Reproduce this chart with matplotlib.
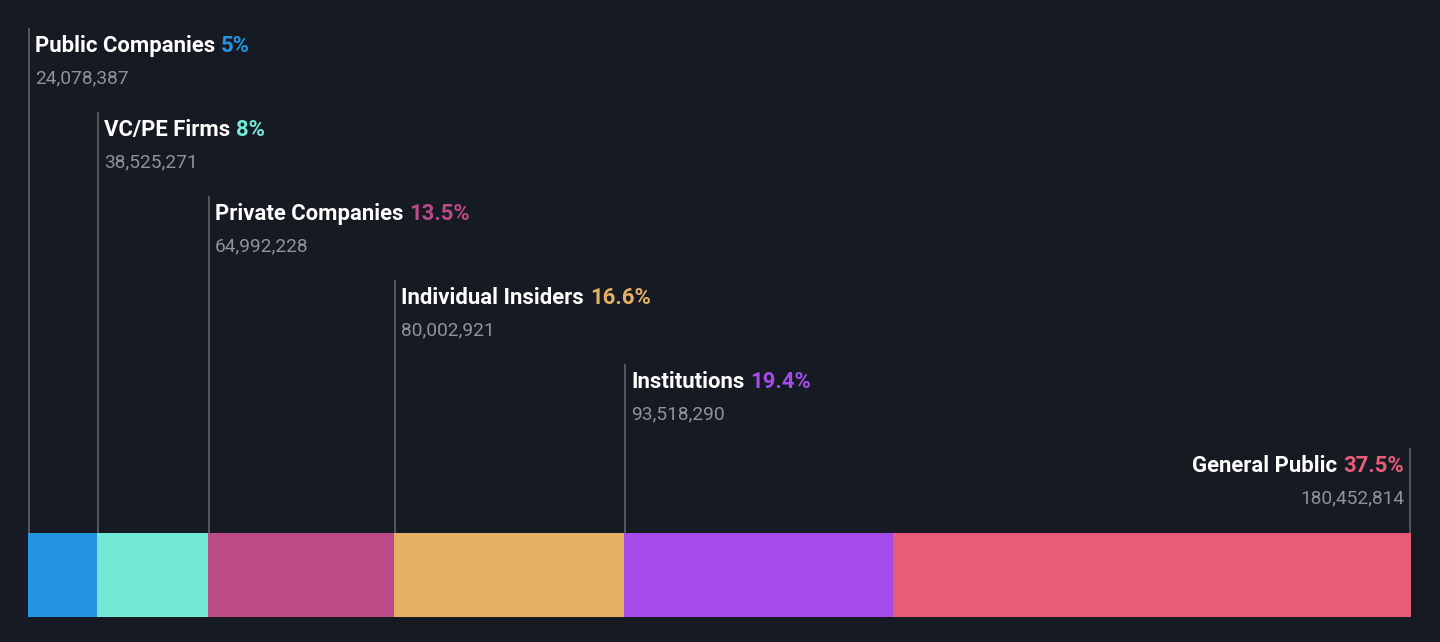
import matplotlib.pyplot as plt

groups = ["Public Companies", "VC/PE Firms", "Private Companies",
          "Individual Insiders", "Institutions", "General Public"]
shares = [24078387, 38525271, 64992228, 80002921, 93518290, 180452814]
pct_labels = ["5%", "8%", "13.5%", "16.6%", "19.4%", "37.5%"]
colors = ["#2394df", "#72e8d6", "#bb4a87", "#e4b063", "#a54bea", "#e85c78"]

bg = "#151a23"
W, H = 1440, 642
plt.rcParams['font.family'] = ['Roboto', 'DejaVu Sans']

fig = plt.figure(figsize=(W / 100, H / 100), dpi=100, facecolor=bg)
ax = fig.add_axes([28 / W, 0, (1411 - 28) / W, 1])
ax.set_facecolor(bg)
total = sum(shares)
ax.set_xlim(0, total)
ax.set_ylim(H, 0)
ax.axis("off")

title_fs = 15.9
num_fs = 13.8

left = 0
for i, (name, val, pct, c) in enumerate(zip(groups, shares, pct_labels, colors)):
    ax.barh(575, val, left=left, height=84, color=c, edgecolor="none")
    last = i == len(groups) - 1
    lx = left + total * 0.0007 if not last else total * 0.9993
    top = 28 + 84 * i
    ax.plot([lx, lx], [top, 533], color="#5f636b", lw=1.2, solid_capstyle="butt")
    off = 6 if not last else -6
    ha = "left" if not last else "right"
    if not last:
        t = ax.annotate(name, xy=(lx, top + 18), xytext=(off, 0), textcoords="offset pixels",
                        color="white", fontsize=title_fs, fontweight="bold", ha=ha, va="center")
        ax.annotate(pct, xy=(1, 0), xycoords=t, xytext=(6, 0), textcoords="offset pixels",
                    color=c, fontsize=title_fs, fontweight="bold", ha="left", va="bottom")
    else:
        p = ax.annotate(pct, xy=(lx, top + 18), xytext=(off, 0), textcoords="offset pixels",
                        color=c, fontsize=title_fs, fontweight="bold", ha=ha, va="center")
        ax.annotate(name, xy=(0, 0), xycoords=p, xytext=(-6, 0), textcoords="offset pixels",
                    color="white", fontsize=title_fs, fontweight="bold", ha="right", va="bottom")
    ax.annotate(f"{val:,}", xy=(lx, top + 50), xytext=(off, 0), textcoords="offset pixels",
                color="#8e9299", fontsize=num_fs, ha=ha, va="center")
    left += val

fig.savefig("out.png", dpi=100, facecolor=bg)
